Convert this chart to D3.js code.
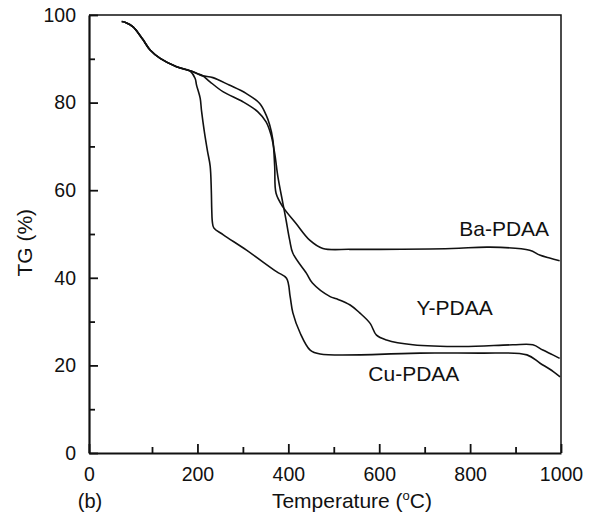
<!DOCTYPE html>
<html>
<head>
<meta charset="utf-8">
<script src="https://cdn.jsdelivr.net/npm/d3@7"></script>
<style>
  body { margin: 0; background: #fff; }
  svg text { font-family: "Liberation Sans", Arial, sans-serif; fill: #111; }
</style>
</head>
<body>
<div id="chart"></div>
<script>
// TG curves, temperature (°C) vs weight (%)
const baTemp = [52, 58, 70, 85, 97, 118, 154, 186, 200, 212, 234, 270, 307, 337, 351, 359, 366, 370, 373, 388, 417, 447, 476, 535, 601, 760, 843, 931, 953, 975, 997];
const baTG   = [98.5, 98.3, 97.3, 94.5, 92.0, 90.1, 88.2, 87.2, 86.6, 86.1, 85.7, 84.0, 82.1, 79.8, 77.2, 74.9, 71.5, 65.4, 59.3, 56.2, 52.4, 48.6, 46.7, 46.5, 46.5, 46.7, 47.0, 46.3, 45.2, 44.5, 43.9];

const yTemp = [52, 58, 70, 85, 97, 118, 154, 186, 200, 212, 227, 256, 300, 333, 351, 362, 370, 377, 388, 395, 403, 410, 440, 453, 492, 506, 536, 557, 580, 594, 616, 674, 784, 894, 938, 960, 982, 997];
const yTG   = [98.5, 98.3, 97.3, 94.5, 92.0, 90.1, 88.2, 87.2, 86.6, 86.1, 84.8, 82.5, 80.2, 77.9, 75.6, 72.6, 68.4, 63.1, 57.0, 53.2, 48.6, 45.6, 41.0, 38.8, 35.7, 35.2, 33.8, 32.0, 29.6, 26.9, 25.8, 24.7, 24.3, 24.7, 24.7, 23.5, 22.4, 21.6];

const cuTemp = [52, 58, 70, 85, 97, 118, 154, 184, 195, 198, 206, 209, 215, 222, 228, 230.5, 231.5, 233, 236, 257, 308, 374, 396, 404, 410, 426, 448, 470, 690, 822, 925, 954, 983, 998];
const cuTG   = [98.5, 98.3, 97.3, 94.5, 92.0, 90.1, 88.2, 87.2, 85.5, 84.0, 81.0, 78.1, 73.5, 69.0, 65.5, 60.0, 55.5, 52.6, 51.4, 49.8, 46.3, 41.4, 39.9, 35.7, 32.0, 27.4, 23.5, 22.6, 22.8, 22.8, 22.4, 20.5, 18.6, 17.4];

const seriesNames = ["Ba-PDAA", "Y-PDAA", "Cu-PDAA"];
const labelAt = [[776, 49.5], [682, 31.5], [576, 16.5]]; // [temp, TG] of label start

const xTicks = [0, 100, 200, 300, 400, 500, 600, 700, 800, 900, 1000];
const yTicks = [0, 10, 20, 30, 40, 50, 60, 70, 80, 90, 100];

const width = 594, height = 519;
const margin = { top: 15, right: 33, bottom: 66, left: 89 };
const w = width - margin.left - margin.right;
const h = height - margin.top - margin.bottom;

const svg = d3.select("#chart").append("svg")
  .attr("width", width)
  .attr("height", height);

const g = svg.append("g")
  .attr("transform", "translate(" + margin.left + "," + margin.top + ")");

// the printed temperature axis is not quite even, first interval is wider
const x = d3.scaleLinear().domain([0, 100, 1000]).range([0, 63, w]);
const y = d3.scaleLinear().domain([0, 100]).range([h, 0]);

// frame (top and right)
g.append("path")
  .attr("d", "M0,0H" + w + "V" + h)
  .attr("fill", "none")
  .attr("stroke", "#111")
  .attr("stroke-width", 1.5);

const xAxis = g.append("g")
  .attr("transform", "translate(0," + h + ")")
  .call(d3.axisBottom(x).tickValues(xTicks).tickSizeInner(-9).tickSizeOuter(0).tickPadding(14)
    .tickFormat(d => d % 200 === 0 ? d : ""));

const yAxis = g.append("g")
  .call(d3.axisLeft(y).tickValues(yTicks).tickSizeInner(-9).tickSizeOuter(0).tickPadding(13)
    .tickFormat(d => d % 20 === 0 ? d : ""));

[xAxis, yAxis].forEach(a => {
  a.select(".domain").attr("stroke", "#111").attr("stroke-width", 2.2);
  a.selectAll(".tick line").attr("stroke", "#111").attr("stroke-width", 1.8);
  a.selectAll(".tick text").attr("font-size", 19.5).attr("fill", "#111")
    .attr("font-family", "'Liberation Sans', Arial, sans-serif");
});
xAxis.selectAll(".tick").filter(d => d % 200 !== 0).select("line").attr("y2", -6);
yAxis.selectAll(".tick").filter(d => d % 20 !== 0).select("line").attr("x2", 6);

// curves
const line = d3.line()
  .x(d => x(d[0]))
  .y(d => y(d[1]))
  .curve(d3.curveCatmullRom.alpha(0.5));

const series = [
  d3.zip(baTemp, baTG),
  d3.zip(yTemp, yTG),
  d3.zip(cuTemp, cuTG)
];

g.selectAll(".curve")
  .data(series)
  .enter()
  .append("path")
  .attr("class", "curve")
  .attr("d", line)
  .attr("fill", "none")
  .attr("stroke", "#111")
  .attr("stroke-width", 1.6);

g.selectAll(".series-label")
  .data(seriesNames)
  .enter()
  .append("text")
  .attr("class", "series-label")
  .attr("x", (d, i) => x(labelAt[i][0]))
  .attr("y", (d, i) => y(labelAt[i][1]))
  .attr("font-size", 21)
  .text(d => d);

// axis titles
const xt = svg.append("text")
  .attr("x", margin.left + x(540))
  .attr("y", 508)
  .attr("text-anchor", "middle")
  .attr("font-size", 21);
xt.append("tspan").text("Temperature (");
xt.append("tspan").attr("font-size", 13).attr("dy", -8).text("o");
xt.append("tspan").attr("dy", 8).text("C)");

svg.append("text")
  .attr("transform", "translate(32," + (margin.top + y(48)) + ") rotate(-90)")
  .attr("text-anchor", "middle")
  .attr("font-size", 21)
  .text("TG (%)");

svg.append("text")
  .attr("x", 90)
  .attr("y", 508)
  .attr("text-anchor", "middle")
  .attr("font-size", 20)
  .text("(b)");
</script>
</body>
</html>
